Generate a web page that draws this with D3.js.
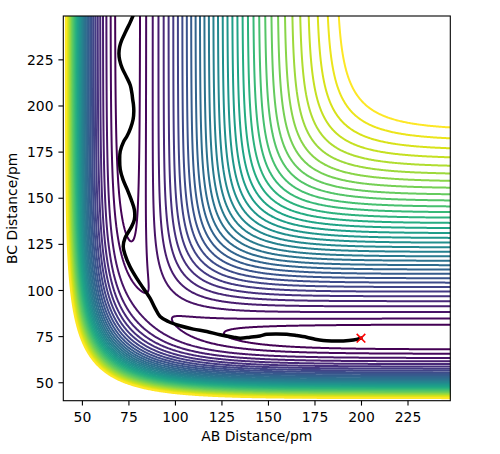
<!DOCTYPE html>
<html><head><meta charset="utf-8">
<script src="https://cdn.jsdelivr.net/npm/d3@7"></script>
<style>
body{margin:0;background:#fff}
svg{display:block}
text{font-family:"DejaVu Sans",sans-serif;fill:#000}
</style>
</head><body>
<svg id="c" width="500" height="454"></svg>
<script>
// ---------- data ----------
const xTicks = [50, 75, 100, 125, 150, 175, 200, 225];
const yTicks = [50, 75, 100, 125, 150, 175, 200, 225];
const xDomain = [40, 248];
const yDomain = [40, 248.5];
// LEPS surface for H + H2 (Morse: De / eV, re / pm, beta / pm^-1) and Sato parameter
const morseParams = [4.746, 74.1, 0.01942];
const satoParams = [0.194];
// grid on which the surface is sampled: start, end, step (pm)
const gridSpec = [34, 254, 0.5];
// contour levels (eV)
const contourLevels = [-4.665,-4.585,-4.477,-4.368,-4.260,-4.151,-4.043,-3.934,-3.826,-3.717,
  -3.609,-3.500,-3.392,-3.283,-3.175,-3.066,-2.958,-2.849,-2.741,-2.632,
  -2.524,-2.415,-2.307,-2.198,-2.090,-1.981,-1.873,-1.764,-1.656,-1.547,
  -1.439,-1.330,-1.222,-1.113,-1.005];
// trajectory (pm)
const trajAB = [200.0,195.9,190.5,185.1,179.7,175.3,170.8,165.4,160.1,154.7,149.3,145.7,140.3,135.0,131.4,124.2,117.1,109.9,102.7,96.4,92.0,89.3,86.6,83.0,79.4,75.8,73.2,72.2,73.2,76.4,78.2,78.2,76.5,74.4,72.1,70.6,70.3,70.6,72.4,74.2,76.2,77.5,77.9,77.7,77.3,76.9,76.0,73.9,71.7,70.3,69.9,70.3,71.4,73.5,75.7,77.6];
const trajBC = [73.9,72.9,72.4,72.4,72.6,73.3,74.4,75.3,76.0,76.2,76.0,75.1,74.4,73.9,74.4,75.7,77.5,78.8,80.6,82.9,85.6,90.2,95.6,101.0,106.4,112.7,119.1,123.6,128.2,133.8,138.1,143.5,149.0,154.4,159.8,165.3,170.7,175.2,180.4,183.3,187.9,192.4,196.9,200.5,203.2,206.5,211.0,215.6,220.1,224.6,228.2,231.9,235.4,240.0,244.5,248.9];
const startAB = [200.0];
const startBC = [73.9];

// ---------- layout ----------
const L = 63.3, R = 450.3, T = 16, B = 400.7;
const svg = d3.select("#c");
const x = d3.scaleLinear().domain(xDomain).range([L, R]);
const y = d3.scaleLinear().domain(yDomain).range([B, T]);

svg.append("defs").append("clipPath").attr("id", "clip")
  .append("rect").attr("x", L).attr("y", T).attr("width", R - L).attr("height", B - T);

// ---------- surface ----------
const [De, re, beta] = morseParams;
const S = satoParams[0];
function QJ(r) {
  const e1 = Math.exp(-beta * (r - re)), e2 = e1 * e1;
  const f = De / (4 * (1 + S));
  return [f * ((3 + S) * e2 - (2 + 6 * S) * e1), f * ((1 + 3 * S) * e2 - (6 + 2 * S) * e1)];
}
function leps(rab, rbc) {
  const rac = rab + rbc;
  const [qa, ja] = QJ(rab), [qb, jb] = QJ(rbc), [qc, jc] = QJ(rac);
  return qa + qb + qc - Math.sqrt(0.5 * ((ja - jb) ** 2 + (jb - jc) ** 2 + (jc - ja) ** 2));
}
const [g0, g1, gs] = gridSpec;
const n = Math.round((g1 - g0) / gs) + 1;
const values = new Float64Array(n * n);
for (let j = 0; j < n; j++) {
  const bc = g0 + j * gs;
  for (let i = 0; i < n; i++) values[j * n + i] = leps(g0 + i * gs, bc);
}
const contours = d3.contours().size([n, n]).thresholds(contourLevels)(values);
const proj = d3.geoTransform({
  point(px, py) { this.stream.point(x(g0 + (px - 0.5) * gs), y(g0 + (py - 0.5) * gs)); }
});
const path = d3.geoPath(proj);
const lo = contourLevels[0], hi = contourLevels[contourLevels.length - 1];
const color = v => d3.interpolateViridis((v - lo) / (hi - lo));

const plot = svg.append("g").attr("clip-path", "url(#clip)");
plot.selectAll("path.c").data(contours).join("path")
  .attr("class", "c")
  .attr("d", path)
  .attr("fill", "none")
  .attr("stroke", d => color(d.value))
  .attr("stroke-width", 2);

// trajectory
const line = d3.line().x(d => x(d[0])).y(d => y(d[1])).curve(d3.curveCatmullRom);
plot.append("path")
  .attr("d", line(trajAB.map((a, i) => [a, trajBC[i]])))
  .attr("fill", "none").attr("stroke", "#000").attr("stroke-width", 3.5)
  .attr("stroke-linejoin", "round").attr("stroke-linecap", "round");

// start marker
const sx = x(startAB[0]), sy = y(startBC[0]), m = 4.3;
svg.append("path")
  .attr("d", `M${sx - m},${sy - m}L${sx + m},${sy + m}M${sx - m},${sy + m}L${sx + m},${sy - m}`)
  .attr("stroke", "#ff0000").attr("stroke-width", 1.6).attr("fill", "none");

// ---------- axes ----------
svg.append("rect").attr("x", L).attr("y", T).attr("width", R - L).attr("height", B - T)
  .attr("fill", "none").attr("stroke", "#000").attr("stroke-width", 1.1);

const xa = svg.append("g").attr("transform", `translate(0,${B})`)
  .call(d3.axisBottom(x).tickValues(xTicks).tickSize(4.9).tickPadding(4.9).tickSizeOuter(0));
const ya = svg.append("g").attr("transform", `translate(${L},0)`)
  .call(d3.axisLeft(y).tickValues(yTicks).tickSize(4.9).tickPadding(4.9).tickSizeOuter(0));
[xa, ya].forEach(a => {
  a.select(".domain").remove();
  a.selectAll("line").attr("stroke", "#000").attr("stroke-width", 1.1);
  a.selectAll("text").attr("font-family", "DejaVu Sans").attr("font-size", "13.9px").attr("fill", "#000");
});
xa.selectAll("text").attr("dy", null).attr("y", 21.3);
ya.selectAll("text").attr("dy", "0.36em");

svg.append("text").attr("x", (L + R) / 2).attr("y", 440.7).attr("text-anchor", "middle")
  .attr("font-size", "13.9px").text("AB Distance/pm");
svg.append("text").attr("transform", `translate(17.4,${(T + B) / 2}) rotate(-90)`)
  .attr("text-anchor", "middle").attr("font-size", "13.9px").text("BC Distance/pm");
</script>
</body></html>
